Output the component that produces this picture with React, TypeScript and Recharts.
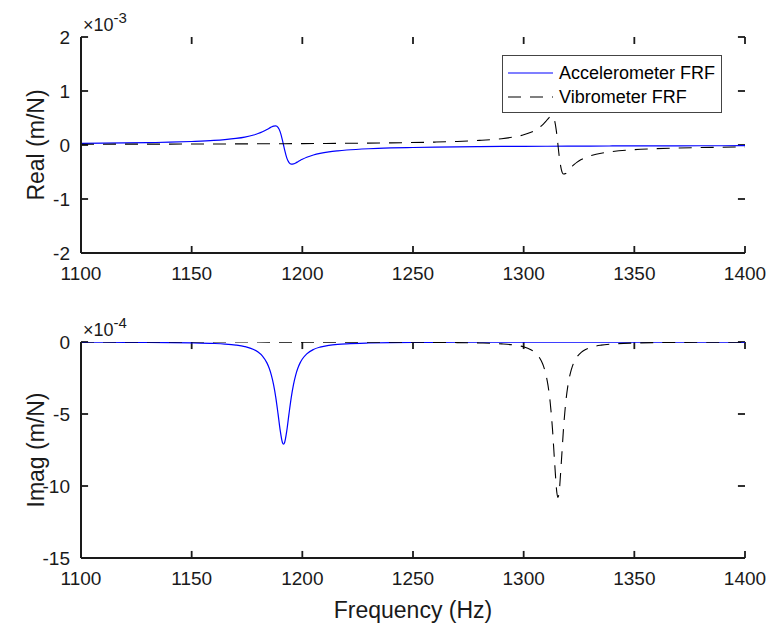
import React from 'react';
import { LineChart, Line, XAxis, YAxis, ReferenceLine } from 'recharts';

const accelFreq = [1100,1110,1120,1130,1140,1150,1160,1165,1170,1174,1178,1180,1182,1184,1185,1186,1187,1188,1189,1190,1191,1191.5,1192,1193,1194,1195,1196,1197,1198,1199,1200,1202,1205,1208,1212,1216,1220,1230,1240,1250,1260,1270,1280,1290,1300,1310,1320,1330,1340,1350,1360,1370,1380,1390,1400];
const accelReal = [0.029,0.033,0.038,0.044,0.052,0.065,0.084,0.100,0.122,0.147,0.185,0.212,0.245,0.286,0.309,0.332,0.350,0.354,0.326,0.243,0.092,0,-0.092,-0.243,-0.326,-0.354,-0.350,-0.332,-0.309,-0.286,-0.265,-0.227,-0.185,-0.155,-0.127,-0.108,-0.093,-0.069,-0.055,-0.046,-0.039,-0.034,-0.030,-0.027,-0.025,-0.023,-0.021,-0.020,-0.018,-0.017,-0.016,-0.015,-0.014,-0.014,-0.013];
const accelImag = [-0.012,-0.015,-0.020,-0.027,-0.038,-0.059,-0.102,-0.143,-0.215,-0.320,-0.521,-0.699,-0.979,-1.450,-1.808,-2.294,-2.955,-3.841,-4.955,-6.143,-6.979,-7.1,-6.979,-6.143,-4.955,-3.841,-2.955,-2.294,-1.808,-1.450,-1.183,-0.822,-0.521,-0.358,-0.236,-0.167,-0.124,-0.069,-0.043,-0.030,-0.022,-0.017,-0.013,-0.011,-0.009,-0.007,-0.006,-0.005,-0.005,-0.004,-0.004,-0.003,-0.003,-0.003,-0.002];

const vibroFreq = [1100,1120,1140,1160,1180,1200,1220,1240,1260,1270,1280,1290,1295,1300,1303,1305,1307,1308,1309,1310,1311,1312,1313,1314,1315,1315.5,1316,1317,1318,1319,1320,1321,1322,1323,1324,1326,1328,1331,1335,1340,1350,1360,1370,1380,1390,1400];
const vibroReal = [0.014,0.016,0.017,0.019,0.022,0.026,0.032,0.040,0.054,0.066,0.085,0.117,0.145,0.189,0.230,0.269,0.321,0.354,0.392,0.437,0.485,0.527,0.537,0.450,0.187,0,-0.187,-0.450,-0.537,-0.527,-0.485,-0.437,-0.392,-0.354,-0.321,-0.269,-0.230,-0.189,-0.152,-0.122,-0.087,-0.068,-0.055,-0.047,-0.041,-0.036];
const vibroImag = [-0.002,-0.002,-0.003,-0.004,-0.005,-0.006,-0.009,-0.015,-0.027,-0.041,-0.067,-0.129,-0.198,-0.341,-0.516,-0.717,-1.057,-1.321,-1.690,-2.223,-3.014,-4.215,-6.009,-8.391,-10.466,-10.8,-10.466,-8.391,-6.009,-4.215,-3.014,-2.223,-1.690,-1.321,-1.057,-0.717,-0.516,-0.341,-0.218,-0.139,-0.071,-0.043,-0.028,-0.020,-0.015,-0.012];

const xTicks = [1100, 1150, 1200, 1250, 1300, 1350, 1400];
const realTicks = [-2, -1, 0, 1, 2];
const imagTicks = [-15, -10, -5, 0];

const seriesNames = ['Accelerometer FRF', 'Vibrometer FRF'];

const accelData = accelFreq.map((f, i) => ({ f, re: accelReal[i], im: accelImag[i] }));
const vibroData = vibroFreq.map((f, i) => ({ f, re: vibroReal[i], im: vibroImag[i] }));

const FONT = '"Liberation Sans", Arial, Helvetica, sans-serif';
const AX = '#1a1a1a';
const XM = 18;
const YM = 11;
const X_TICK_LEN = 3.2; // Hz, ~7px

function BottomTick(p: any) {
  return (
    <text x={p.x} y={p.y + 9} textAnchor="middle" fontSize={19} fill={AX} fontFamily={FONT}>{p.payload.value}</text>
  );
}
function LeftTick(p: any) {
  return (
    <text x={p.x} y={p.y + 7} textAnchor="end" fontSize={19} fill={AX} fontFamily={FONT}>{p.payload.value}</text>
  );
}

function Panel({ height, marginTop, xAxisHeight, domain, ticks, dataKey, yTickLen }: any) {
  const axisLine = { stroke: AX, strokeWidth: 2 };
  const [ymin, ymax] = domain;
  const tickProps = { stroke: AX, strokeWidth: 1.8, ifOverflow: 'visible' as const };
  return (
    <LineChart width={770} height={height} margin={{ top: marginTop, right: 25, bottom: 0, left: 0 }}>
      <XAxis dataKey="f" type="number" domain={[1100, 1400]} ticks={xTicks} allowDataOverflow
        height={xAxisHeight} tickSize={0} tickMargin={XM} tickLine={false} tick={BottomTick}
        axisLine={axisLine} />
      <XAxis xAxisId="t" orientation="top" dataKey="f" type="number" domain={[1100, 1400]} ticks={xTicks}
        allowDataOverflow height={0} tickSize={0} tickLine={false} tick={false} axisLine={axisLine} />
      <YAxis type="number" domain={domain} ticks={ticks} allowDataOverflow width={81}
        tickSize={0} tickMargin={YM} tickLine={false} tick={LeftTick} axisLine={axisLine} />
      <YAxis yAxisId="r" orientation="right" type="number" domain={domain} ticks={ticks} allowDataOverflow
        width={0} tickSize={0} tickLine={false} tick={false} axisLine={axisLine} />
      {xTicks.map((t) => (
        <ReferenceLine key={`xb${t}`} segment={[{ x: t, y: ymin }, { x: t, y: ymin + yTickLen }]} {...tickProps} />
      ))}
      {xTicks.map((t) => (
        <ReferenceLine key={`xt${t}`} segment={[{ x: t, y: ymax }, { x: t, y: ymax - yTickLen }]} {...tickProps} />
      ))}
      {ticks.map((t: number) => (
        <ReferenceLine key={`yl${t}`} segment={[{ x: 1100, y: t }, { x: 1100 + X_TICK_LEN, y: t }]} {...tickProps} />
      ))}
      {ticks.map((t: number) => (
        <ReferenceLine key={`yr${t}`} segment={[{ x: 1400, y: t }, { x: 1400 - X_TICK_LEN, y: t }]} {...tickProps} />
      ))}
      <Line data={accelData} dataKey={dataKey} name={seriesNames[0]} type="monotone" stroke="#0000ff"
        strokeWidth={1.2} dot={false} isAnimationActive={false} />
      <Line data={vibroData} dataKey={dataKey} name={seriesNames[1]} type="monotone" stroke="#000000"
        strokeWidth={1.1} strokeDasharray="13 9" dot={false} isAnimationActive={false} />
    </LineChart>
  );
}

export default function App() {
  return (
    <div style={{ position: 'absolute', left: 0, top: 0, width: 770, height: 625, background: '#fff', overflow: 'hidden' }}>
      <div style={{ position: 'absolute', left: 0, top: 0 }}>
        <Panel height={300} marginTop={37} xAxisHeight={47} domain={[-2, 2]} ticks={realTicks} dataKey="re" yTickLen={0.13} />
      </div>
      <div style={{ position: 'absolute', left: 0, top: 300 }}>
        <Panel height={325} marginTop={42} xAxisHeight={67} domain={[-15, 0]} ticks={imagTicks} dataKey="im" yTickLen={0.49} />
      </div>
      <svg width={770} height={625} style={{ position: 'absolute', left: 0, top: 0, pointerEvents: 'none' }}
        fontFamily={FONT}>
        <text x={83} y={31} fontSize={18} fill={AX}>×10<tspan dy={-8} fontSize={15}>-3</tspan></text>
        <text x={83} y={336} fontSize={18} fill={AX}>×10<tspan dy={-8} fontSize={15}>-4</tspan></text>
        <text x={44} y={145} fontSize={23} fill={AX} textAnchor="middle" transform="rotate(-90 44 145)">Real (m/N)</text>
        <text x={44} y={450} fontSize={23} fill={AX} textAnchor="middle" transform="rotate(-90 44 450)">Imag (m/N)</text>
        <text x={413} y={618} fontSize={23} fill={AX} textAnchor="middle">Frequency (Hz)</text>
        <rect x={502.5} y={55.5} width={219} height={57} fill="#fff" stroke="#444" strokeWidth={1} />
        <line x1={508} y1={73} x2={553} y2={73} stroke="#0000ff" strokeWidth={1.2} />
        <line x1={508} y1={97} x2={553} y2={97} stroke="#000" strokeWidth={1.1} strokeDasharray="13 9" />
        <text x={559} y={79} fontSize={18} fill="#000">{seriesNames[0]}</text>
        <text x={559} y={103} fontSize={18} fill="#000">{seriesNames[1]}</text>
      </svg>
    </div>
  );
}
